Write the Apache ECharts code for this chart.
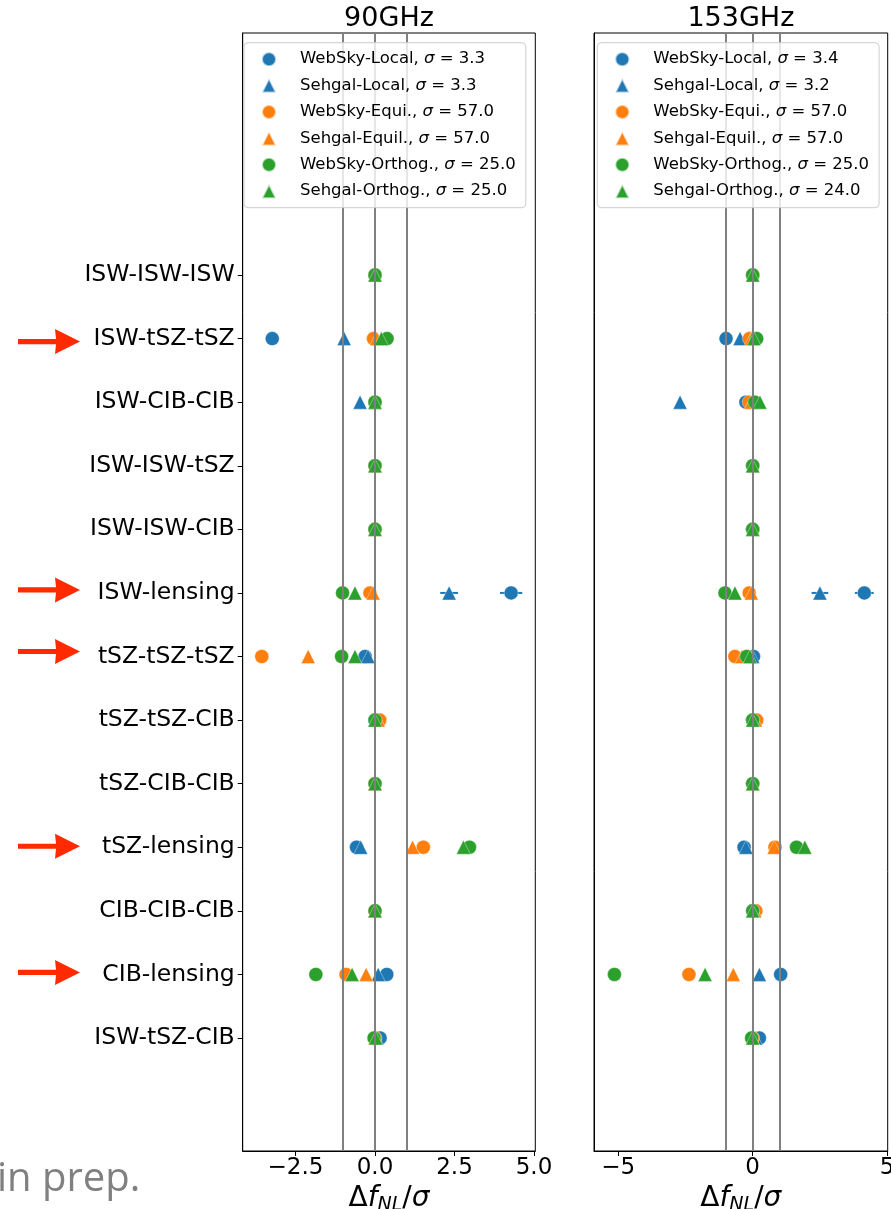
<!DOCTYPE html>
<html>
<head>
<meta charset="utf-8">
<script src="https://cdn.jsdelivr.net/npm/echarts@6/dist/echarts.min.js"></script>
<style>
  html, body { margin: 0; padding: 0; background: #fff; }
  #chart { width: 891px; height: 1209px; }
</style>
</head>
<body>
<div id="chart"></div>
<script>
// Bispectrum combinations, top to bottom
const categories = [
  'ISW-ISW-ISW', 'ISW-tSZ-tSZ', 'ISW-CIB-CIB', 'ISW-ISW-tSZ', 'ISW-ISW-CIB',
  'ISW-lensing', 'tSZ-tSZ-tSZ', 'tSZ-tSZ-CIB', 'tSZ-CIB-CIB', 'tSZ-lensing',
  'CIB-CIB-CIB', 'CIB-lensing', 'ISW-tSZ-CIB'
];

// 90 GHz: bias in f_NL over sigma, one value per combination
const webLocal90 = [0, -3.23, 0.0, 0, 0, 4.28, -0.31, 0, 0, -0.58, 0, 0.37, 0.16];
const sehLocal90 = [0, -0.97, -0.47, 0, 0, 2.33, -0.22, 0, 0, -0.45, 0, 0.10, 0.05];
const webEqui90  = [0, -0.05, 0, 0, 0, -0.16, -3.56, 0.15, 0, 1.52, 0, -0.91, 0];
const sehEqui90  = [0, 0.05, 0, 0, 0, -0.06, -2.10, 0.10, 0, 1.18, 0, -0.28, 0];
const webOrth90  = [0, 0.38, 0, 0, 0, -1.02, -1.05, 0, 0, 2.97, 0, -1.86, -0.03];
const sehOrth90  = [0, 0.20, 0, 0, 0, -0.63, -0.63, 0, 0, 2.78, 0, -0.72, 0.02];
const errWebLocal90 = [0, 0, 0, 0, 0, 0.35, 0, 0, 0, 0, 0, 0, 0];
const errSehLocal90 = [0, 0, 0, 0, 0, 0.28, 0, 0, 0, 0, 0, 0, 0];

// 153 GHz
const webLocal153 = [0, -0.99, -0.25, 0, 0, 4.15, 0.03, 0, 0, -0.32, 0, 1.04, 0.25];
const sehLocal153 = [0, -0.47, -2.70, 0, 0, 2.50, 0, 0, 0, -0.25, 0, 0.25, 0.10];
const webEqui153  = [0, -0.12, -0.13, 0, 0, -0.13, -0.66, 0.15, 0, 0.83, 0.12, -2.37, 0];
const sehEqui153  = [0, -0.05, -0.05, 0, 0, -0.05, -0.40, 0.10, 0, 0.80, 0.08, -0.72, 0];
const webOrth153  = [0, 0.15, 0.08, 0, 0, -1.03, -0.22, 0, 0, 1.63, 0, -5.14, -0.04];
const sehOrth153  = [0, 0.05, 0.27, 0, 0, -0.66, -0.10, 0, 0, 1.94, 0, -1.77, 0];
const errWebLocal153 = [0, 0, 0, 0, 0, 0.35, 0, 0, 0, 0, 0, 0, 0];
const errSehLocal153 = [0, 0, 0, 0, 0, 0.31, 0, 0, 0, 0, 0, 0, 0];

// Legend labels (sigma of each template)
const names90  = ['WebSky-Local, σ = 3.3', 'Sehgal-Local, σ = 3.3', 'WebSky-Equi., σ = 57.0',
                  'Sehgal-Equil., σ = 57.0', 'WebSky-Orthog., σ = 25.0', 'Sehgal-Orthog., σ = 25.0'];
const names153 = ['WebSky-Local, σ = 3.4', 'Sehgal-Local, σ = 3.2', 'WebSky-Equi., σ = 57.0',
                  'Sehgal-Equil., σ = 57.0', 'WebSky-Orthog., σ = 25.0', 'Sehgal-Orthog., σ = 24.0'];

const panelTitles = ['90GHz', '153GHz'];
const xTicks90 = [-2.5, 0, 2.5, 5];
const xTicks153 = [-5, 0, 5];
const refLines = [-1, 0, 1];
const arrowRows = ['ISW-tSZ-tSZ', 'ISW-lensing', 'tSZ-tSZ-tSZ', 'tSZ-lensing', 'CIB-lensing'];
const arrowNudge = [3, -3, -5, -1, -2];

const COLORS = ['#1f77b4', '#1f77b4', '#ff7f0e', '#ff7f0e', '#2ca02c', '#2ca02c'];
const SYMBOLS = ['circle', 'triangle', 'circle', 'triangle', 'circle', 'triangle'];
const FONT = 'DejaVu Sans';

const grids = [
  { left: 242.7, top: 33, width: 292.6, height: 1118 },
  { left: 594, top: 33, width: 293.7, height: 1118 }
];
const xRanges = [[-4.16, 5.04], [-5.9, 5.02]];
const yMin = -3.806, yMax = 13.777;

const chart = echarts.init(document.getElementById('chart'), null, { renderer: 'canvas' });

function scatterSeries(name, values, k, gi) {
  return {
    type: 'scatter', name: name, xAxisIndex: gi, yAxisIndex: gi,
    data: values.map((v, i) => [v, i]),
    symbol: SYMBOLS[k], symbolSize: 14,
    itemStyle: { color: COLORS[k], opacity: 1, borderColor: 'rgba(255,255,255,0.6)', borderWidth: 0.6 },
    z: 2, silent: true, animation: false
  };
}

function errSeries(values, errs, color, gi) {
  const data = [];
  values.forEach((v, i) => { if (errs[i] > 0) data.push([v - errs[i], v + errs[i], i]); });
  return {
    type: 'custom', xAxisIndex: gi, yAxisIndex: gi, data: data, z: 1, silent: true, animation: false,
    encode: { x: [0, 1], y: 2 },
    renderItem: function (params, api) {
      const a = api.coord([api.value(0), api.value(2)]);
      const b = api.coord([api.value(1), api.value(2)]);
      return { type: 'line', shape: { x1: a[0], y1: a[1], x2: b[0], y2: b[1] },
               style: { stroke: color, lineWidth: 2 } };
    }
  };
}

function refLineSeries(gi) {
  return {
    type: 'scatter', xAxisIndex: gi, yAxisIndex: gi, data: [], silent: true, z: 3,
    markLine: {
      silent: true, symbol: ['none', 'none'], animation: false, z: 3,
      label: { show: false },
      lineStyle: { color: '#808080', width: 2, type: 'solid' },
      data: refLines.map(v => ({ xAxis: v }))
    }
  };
}

const panels = [
  { vals: [webLocal90, sehLocal90, webEqui90, sehEqui90, webOrth90, sehOrth90],
    errs: [errWebLocal90, errSehLocal90], names: names90 },
  { vals: [webLocal153, sehLocal153, webEqui153, sehEqui153, webOrth153, sehOrth153],
    errs: [errWebLocal153, errSehLocal153], names: names153 }
];

const series = [];
panels.forEach((p, gi) => {
  series.push(errSeries(p.vals[0], p.errs[0], COLORS[0], gi));
  series.push(errSeries(p.vals[1], p.errs[1], COLORS[1], gi));
  p.vals.forEach((vals, k) => series.push(scatterSeries(p.names[k], vals, k, gi)));
  series.push(refLineSeries(gi));
});

const xName = '{a|Δ}{i|f}{sub|NL}{a|/}{i|σ}';
const xNameStyle = {
  fontFamily: FONT, color: '#000',
  rich: {
    a: { fontSize: 28, fontFamily: FONT, color: '#000', lineHeight: 32 },
    i: { fontSize: 28, fontFamily: FONT, fontStyle: 'italic', color: '#000', lineHeight: 32 },
    sub: { fontSize: 19, fontFamily: FONT, fontStyle: 'italic', color: '#000', lineHeight: 24, verticalAlign: 'bottom' }
  }
};

function xAxisOf(gi) {
  const ticks = gi === 0 ? xTicks90 : xTicks153;
  return {
    type: 'value', gridIndex: gi, min: xRanges[gi][0], max: xRanges[gi][1],
    axisLine: { show: true, onZero: false, lineStyle: { color: '#000', width: 1 } },
    axisTick: { show: true, inside: false, length: 5, customValues: ticks, lineStyle: { color: '#000' } },
    axisLabel: {
      show: true, customValues: ticks, margin: 6, fontSize: 23, fontFamily: FONT, color: '#000',
      formatter: v => (gi === 0 ? v.toFixed(1) : String(Math.round(v))).replace('-', '\u2212')
    },
    splitLine: { show: false },
    name: xName, nameLocation: 'middle', nameGap: 24, nameTextStyle: xNameStyle
  };
}

const rowValues = categories.map((c, i) => i);
function yAxisOf(gi) {
  return {
    type: 'value', gridIndex: gi, inverse: true, min: yMin, max: yMax,
    axisLine: { show: true, onZero: false, lineStyle: { color: '#000', width: 1 } },
    axisTick: { show: gi === 0, inside: false, length: 5, customValues: rowValues, lineStyle: { color: '#000' } },
    axisLabel: {
      show: gi === 0, customValues: rowValues, margin: 8, fontSize: 23.5, fontFamily: FONT, color: '#000',
      formatter: v => categories[Math.round(v)] || ''
    },
    splitLine: { show: false }
  };
}

function legendOf(gi, left) {
  return {
    show: true, orient: 'vertical', left: left, top: 42.7,
    data: panels[gi].names, selectedMode: false, z: 10,
    itemWidth: 14, itemHeight: 14, itemGap: 9.4,
    padding: [8, 10, 8, 17],
    backgroundColor: 'rgba(255,255,255,0.8)', borderColor: '#cccccc', borderWidth: 1, borderRadius: 4,
    textStyle: {
      fontFamily: FONT, fontSize: 16.5, color: '#000', lineHeight: 14, padding: [0, 0, 0, 19],
      rich: {
        t: { fontFamily: FONT, fontSize: 16.5, color: '#000', lineHeight: 14 },
        s: { fontFamily: FONT, fontSize: 16.5, fontStyle: 'italic', color: '#000', lineHeight: 14 }
      }
    },
    formatter: function (name) {
      const parts = name.split('σ');
      return '{t|' + parts[0] + '}{s|σ}{t|' + parts[1] + '}';
    }
  };
}

chart.setOption({
  animation: false,
  backgroundColor: '#fff',
  grid: grids.map(g => ({ left: g.left, top: g.top, width: g.width, height: g.height,
                          outerBoundsMode: 'none', containLabel: false,
                          show: true, borderColor: '#000', borderWidth: 1, backgroundColor: 'transparent' })),
  xAxis: [xAxisOf(0), xAxisOf(1)],
  yAxis: [yAxisOf(0), yAxisOf(1)],
  legend: [legendOf(0, 244), legendOf(1, 597.3)],
  series: series
});

// Panel titles, side note and the red arrows beside selected rows
const graphics = [];
panelTitles.forEach((t, gi) => {
  const g = grids[gi];
  graphics.push({
    type: 'text', x: g.left + g.width / 2, y: 19, z: 20,
    style: { text: t, fontSize: 27, fontFamily: FONT, fill: '#000',
             textAlign: 'center', textVerticalAlign: 'middle', align: 'center', verticalAlign: 'middle' }
  });
});
graphics.push({
  type: 'text', x: -3, y: 1180, z: 20,
  style: { text: 'in prep.', fontSize: 40, fontFamily: 'Open Sans', fill: '#808080',
           textAlign: 'left', textVerticalAlign: 'middle', align: 'left', verticalAlign: 'middle' }
});
arrowRows.forEach((name, j) => {
  const y = chart.convertToPixel({ yAxisIndex: 0 }, categories.indexOf(name)) + arrowNudge[j];
  graphics.push({
    type: 'polygon', z: 20,
    shape: { points: [[18, y - 2.6], [56, y - 2.6], [55, y - 12.5], [80, y], [55, y + 12.5], [56, y + 2.6], [18, y + 2.6]] },
    style: { fill: '#ff2a00' }
  });
});
chart.setOption({ graphic: graphics });
</script>
</body>
</html>
